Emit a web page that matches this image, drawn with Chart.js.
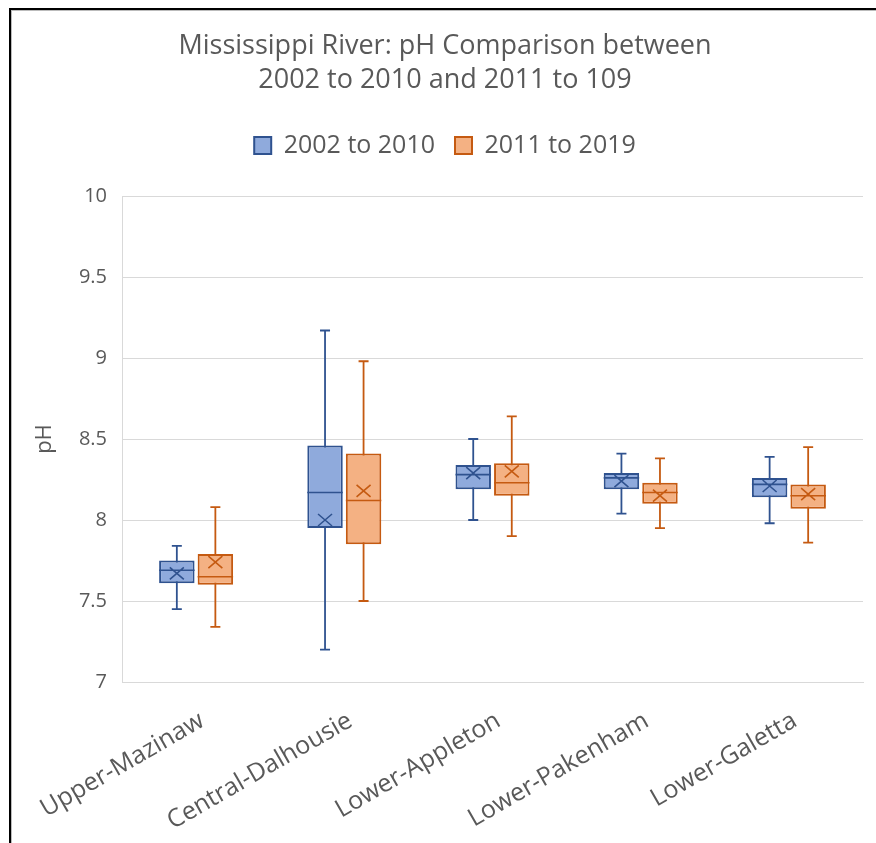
<!DOCTYPE html>
<html lang="en">
<head>
  <meta charset="UTF-8">
  <title>Mississippi River pH Comparison</title>
  <script src="https://cdn.jsdelivr.net/npm/chart.js"></script>
  <style>
    body { margin: 0; background: #fff; }
    #wrap { position: relative; width: 876px; height: 843px; }
    #frame { position: absolute; left: 9px; top: 8px; right: 0; bottom: 0;
      border-top: 2px solid #000; border-left: 2px solid #000;
      box-shadow: inset 1px 1px 0 #bbb; pointer-events: none; }
  </style>
</head>
<body>
<div id="wrap">
  <canvas id="boxChart" width="876" height="843"></canvas>
  <div id="frame"></div>
</div>
<script>
  const sites = ['Upper-Mazinaw', 'Central-Dalhousie', 'Lower-Appleton', 'Lower-Pakenham', 'Lower-Galetta']
  const seriesNames = ['2002 to 2010', '2011 to 2019']

  // 2002 to 2010
  const minA = [7.45, 7.20, 8.00, 8.04, 7.98]
  const q1A = [7.61, 7.95, 8.19, 8.19, 8.14]
  const medA = [7.69, 8.17, 8.28, 8.26, 8.22]
  const q3A = [7.75, 8.46, 8.34, 8.29, 8.26]
  const maxA = [7.84, 9.17, 8.50, 8.41, 8.39]
  const meanA = [7.67, 8.00, 8.29, 8.24, 8.21]

  // 2011 to 2019
  const minB = [7.34, 7.50, 7.90, 7.95, 7.86]
  const q1B = [7.60, 7.85, 8.15, 8.10, 8.07]
  const medB = [7.65, 8.12, 8.23, 8.17, 8.15]
  const q3B = [7.79, 8.41, 8.35, 8.23, 8.22]
  const maxB = [8.08, 8.98, 8.64, 8.38, 8.45]
  const meanB = [7.74, 8.18, 8.30, 8.15, 8.16]

  const yTicks = [7, 7.5, 8, 8.5, 9, 9.5, 10]
  const yTickLabels = ['7', '7.5', '8', '8.5', '9', '9.5', '10']

  const fills = ['#8FAADC', '#F4B183']
  const lines = ['#2F528F', '#C55A11']
  const textGray = '#595959'
  const fontFamily = "'Open Sans', sans-serif"

  const stats = [
    { min: minA, med: medA, max: maxA, mean: meanA },
    { min: minB, med: medB, max: maxB, mean: meanB }
  ]

  // whiskers behind the boxes, median + mean marker on top
  const boxPlot = {
    id: 'boxPlot',
    beforeDatasetsDraw(chart) {
      const ctx = chart.ctx
      const y = chart.scales.y
      stats.forEach((s, d) => {
        chart.getDatasetMeta(d).data.forEach((bar, i) => {
          const top = y.getPixelForValue(s.max[i])
          const bot = y.getPixelForValue(s.min[i])
          ctx.save()
          ctx.strokeStyle = lines[d]
          ctx.lineWidth = 1.8
          ctx.beginPath()
          ctx.moveTo(bar.x, top); ctx.lineTo(bar.x, bot)
          ctx.moveTo(bar.x - 5, top); ctx.lineTo(bar.x + 5, top)
          ctx.moveTo(bar.x - 5, bot); ctx.lineTo(bar.x + 5, bot)
          ctx.stroke()
          ctx.restore()
        })
      })
    },
    afterDatasetsDraw(chart) {
      const ctx = chart.ctx
      const y = chart.scales.y
      stats.forEach((s, d) => {
        chart.getDatasetMeta(d).data.forEach((bar, i) => {
          const half = bar.width / 2
          const med = y.getPixelForValue(s.med[i])
          const mean = y.getPixelForValue(s.mean[i])
          ctx.save()
          ctx.strokeStyle = lines[d]
          ctx.lineWidth = 1.6
          ctx.beginPath()
          ctx.moveTo(bar.x - half, med); ctx.lineTo(bar.x + half, med)
          ctx.moveTo(bar.x - 7, mean - 6); ctx.lineTo(bar.x + 7, mean + 6)
          ctx.moveTo(bar.x - 7, mean + 6); ctx.lineTo(bar.x + 7, mean - 6)
          ctx.stroke()
          ctx.restore()
        })
      })
    }
  }

  // extra room under the legend
  const legendGap = {
    id: 'legendGap',
    beforeInit(chart) {
      const fit = chart.legend.fit
      chart.legend.fit = function () {
        fit.bind(chart.legend)()
        this.height += 28
      }
    }
  }

  new Chart(document.getElementById('boxChart'), {
    type: 'bar',
    data: {
      labels: sites,
      datasets: [
        {
          label: seriesNames[0],
          data: q1A.map((v, i) => [v, q3A[i]]),
          backgroundColor: fills[0],
          borderColor: lines[0],
          borderWidth: 2,
          borderSkipped: false
        },
        {
          label: seriesNames[1],
          data: q1B.map((v, i) => [v, q3B[i]]),
          backgroundColor: fills[1],
          borderColor: lines[1],
          borderWidth: 2,
          borderSkipped: false
        }
      ]
    },
    options: {
      responsive: false,
      animation: false,
      categoryPercentage: 0.52,
      barPercentage: 0.92,
      layout: { padding: { left: 27, right: 13, top: 29, bottom: 0 } },
      plugins: {
        title: {
          display: true,
          text: ['Mississippi River: pH Comparison between', '2002 to 2010 and 2011 to 109'],
          color: textGray,
          font: { family: fontFamily, size: 27, weight: 'normal', lineHeight: 1.26 },
          padding: { top: 0, bottom: 16 }
        },
        legend: {
          labels: {
            color: textGray,
            font: { family: fontFamily, size: 25 },
            boxWidth: 17,
            boxHeight: 17,
            padding: 20
          }
        },
        tooltip: { enabled: false }
      },
      scales: {
        x: {
          grid: { display: false },
          border: { color: '#D9D9D9', width: 1 },
          ticks: {
            color: textGray,
            font: { family: fontFamily, size: 25 },
            minRotation: 30,
            maxRotation: 30,
            labelOffset: 6,
            padding: 16
          },
          afterFit(scale) { scale.height = 161 }
        },
        y: {
          min: 7,
          max: 10,
          afterBuildTicks(scale) { scale.ticks = yTicks.map(v => ({ value: v })) },
          grid: { color: '#D9D9D9', drawTicks: false },
          border: { color: '#D9D9D9' },
          ticks: {
            color: textGray,
            font: { family: fontFamily, size: 20 },
            padding: 15,
            callback: (v, i) => yTickLabels[i]
          },
          title: {
            display: true,
            text: 'pH',
            color: textGray,
            font: { family: fontFamily, size: 22 },
            padding: { top: 5, bottom: 0 }
          },
          afterFit(scale) { scale.width = 95 }
        }
      }
    },
    plugins: [boxPlot, legendGap]
  })
</script>
</body>
</html>
